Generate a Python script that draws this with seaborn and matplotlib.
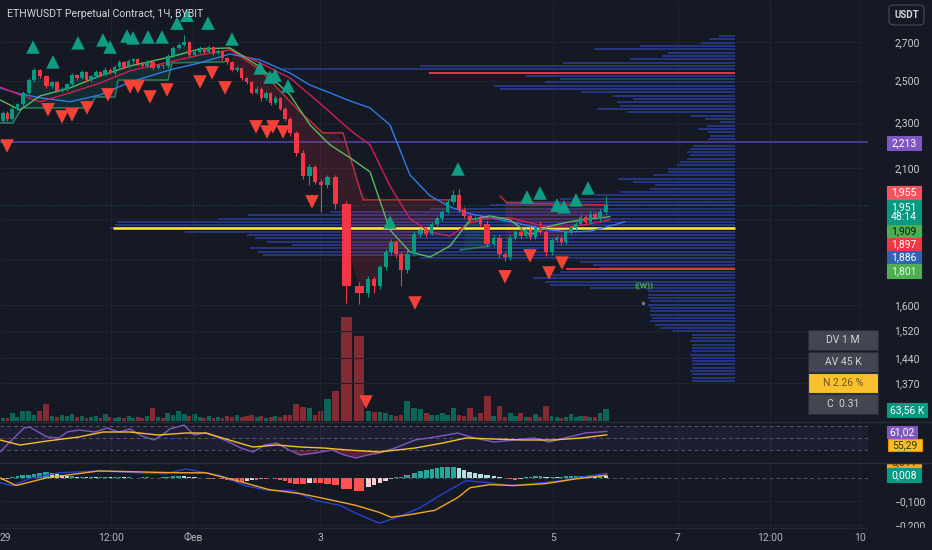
import numpy as np
import pandas as pd
import matplotlib
matplotlib.use("Agg")
import matplotlib.pyplot as plt
import seaborn as sns
from matplotlib.patches import Rectangle, FancyBboxPatch
from matplotlib.lines import Line2D
from matplotlib.ticker import FixedLocator, FixedFormatter, NullLocator, NullFormatter

# ------------------------------------------------------------------
# DATA
# ------------------------------------------------------------------
first_open = 2308
closes = [
    # Jan 29 - Feb 2 (uptrend / top)
    2346, 2317, 2365, 2384, 2441, 2501, 2552, 2521, 2471, 2491,
    2451, 2461, 2481, 2526, 2511, 2542, 2501, 2521, 2542, 2526,
    2555, 2540, 2570, 2594, 2568, 2599, 2609, 2583, 2573, 2594,
    2562, 2578, 2573, 2625, 2668, 2684, 2700, 2631, 2647, 2668,
    2647, 2673, 2641, 2652, 2615, 2594, 2552, 2562, 2511, 2491,
    2441, 2461, 2413, 2441, 2393, 2413, 2365, 2317,
    # sell-off
    2253, 2164, 2066, 2104, 2045, 2033, 2062, 1957,
    # crash
    1663, 1639,
    # rebound
    1686, 1663, 1724, 1777, 1813, 1770, 1714, 1770, 1843, 1857,
    1843, 1880, 1902, 1926, 1965, 1993, 1934,
    # range
    1910, 1895, 1902, 1880, 1806, 1828, 1770, 1759, 1828, 1850,
    1835, 1857, 1832, 1865, 1850, 1777, 1820, 1828, 1813, 1850,
    1865, 1880, 1906, 1887, 1918, 1902, 1926, 1951,
]
wick_up = [
    6, 8, 10, 5, 8, 12, 10, 6, 8, 5, 7, 6, 9, 12, 6, 10, 5, 8, 10, 6,
    12, 7, 9, 10, 6, 12, 8, 6, 7, 9, 6, 8, 7, 10, 8, 9, 38, 6, 10, 8,
    7, 12, 6, 9, 5, 6, 8, 10, 6, 5, 8, 10, 6, 9, 5, 10, 6, 5,
    10, 8, 12, 15, 8, 10, 10, 8,
    10, 12,
    8, 10, 8, 12, 10, 8, 6, 15, 10, 8, 10, 6, 8, 6, 10, 20, 22,
    10, 8, 6, 8, 15, 10, 12, 6, 10, 8, 20, 8, 10, 12, 25, 10, 8, 6, 8, 10,
    8, 10, 12, 8, 15, 8, 12, 38,
]
wick_dn = [
    8, 10, 6, 9, 12, 8, 6, 10, 7, 9, 6, 8, 10, 6, 9, 5, 8, 7, 6, 9,
    5, 8, 10, 6, 7, 5, 9, 8, 6, 10, 7, 6, 8, 9, 6, 7, 8, 10, 6, 8,
    9, 7, 10, 6, 8, 12, 6, 9, 10, 8, 6, 9, 12, 7, 10, 8, 9, 12,
    15, 12, 10, 33, 10, 110, 15, 20,
    56, 35,
    15, 25, 10, 8, 10, 12, 51, 10, 8, 10, 12, 6, 8, 10, 6, 8, 10,
    8, 10, 6, 12, 10, 8, 15, 12, 8, 6, 10, 8, 12, 6, 8, 15, 10, 8, 10, 6,
    8, 10, 6, 12, 6, 8, 10, 8,
]
volume_k = [
    16, 16, 42, 21, 53, 53, 32, 53, 90, 27, 21, 32, 27, 37, 21, 27, 16, 21, 27, 16,
    37, 21, 16, 21, 16, 27, 16, 21, 16, 27, 69, 21, 16, 42, 32, 53, 37, 27, 37, 21,
    16, 27, 16, 21, 16, 27, 21, 32, 21, 27, 32, 21, 27, 16, 21, 27, 21, 32,
    32, 90, 74, 69, 32, 53, 117, 159,
    551, 450,
    53, 48, 48, 42, 32, 27, 32, 106, 69, 64, 42, 32, 32, 42, 32, 69, 32,
    27, 69, 21, 42, 133, 27, 80, 21, 42, 27, 42, 21, 21, 37, 21, 80, 27, 21, 16, 21,
    37, 21, 27, 27, 21, 21, 42, 63.56,
]
macd_hist = [
    -0.008, -0.004, 0.004, 0.008, 0.0125, 0.0125, 0.017, 0.021, 0.025, 0.021,
    0.017, 0.0125, 0.008, 0.008, 0.004, 0.004, 0.002, 0.004, 0.002, 0.002,
    0.004, 0.002, 0.004, 0.004, 0.002, 0.002, -0.002, -0.002, 0.002, 0.002,
    -0.002, -0.002, 0.002, 0.004, 0.006, 0.008, 0.006, 0.004, 0.002, -0.002,
    -0.002, -0.004, -0.004, -0.002, -0.004, -0.008, -0.0125, -0.017, -0.017, -0.0125,
    -0.008, -0.008, -0.004, -0.004, -0.002, -0.004, -0.008, -0.0125,
    -0.021, -0.025, -0.025, -0.021, -0.021, -0.021, -0.025, -0.029,
    -0.046, -0.054,
    -0.0375, -0.029, -0.021, -0.0125, -0.004, 0.002, 0.004, 0.0125, 0.021, 0.029,
    0.033, 0.0375, 0.042, 0.046, 0.046, 0.046, 0.042,
    0.033, 0.025, 0.021, 0.017, 0.0125, 0.006, 0.002, -0.002, -0.006, -0.008,
    -0.004, 0.002, 0.004, 0.006, 0.006, 0.004, 0.004, 0.002, 0.004, 0.006,
    0.006, 0.008, 0.008, 0.008, 0.010, 0.008, 0.010, 0.008,
]

# Williams Alligator (displaced forward), chart-time positions
alli_x = [0, 20, 40, 70, 100, 130, 170, 200, 230, 260, 290, 310, 330, 350, 370,
          390, 410, 430, 450, 470, 490, 510, 530, 550, 570, 590, 610, 625]
jaw = [2464, 2435, 2416, 2397, 2430, 2493, 2554, 2590, 2636, 2605, 2538, 2478, 2440, 2401,
       2368, 2289, 2072, 1988, 1945, 1918, 1903, 1888, 1872, 1857, 1850, 1853, 1872, 1888]
teeth = [2469, 2430, 2397, 2440, 2488, 2549, 2595, 2631, 2657, 2590, 2513, 2430, 2348, 2266,
         2200, 2027, 1899, 1850, 1835, 1884, 1903, 1903, 1884, 1868, 1868, 1880, 1895, np.nan]
lips = [2406, 2358, 2425, 2464, 2524, 2574, 2620, 2663, 2668, 2569, 2430, 2289, 2200, 2144,
        2085, 1857, 1778, 1760, 1799, 1895, 1910, 1895, 1839, 1872, 1888, 1899, 1907, np.nan]

# Supertrend segments
st_up1_x = [0, 13, 22, 90, 95, 115, 118, 168, 172, 225]
st_up1 = [2298, 2298, 2368, 2368, 2420, 2420, 2503, 2503, 2590, 2595]
st_dn1_x = [228, 260, 300, 323, 343, 363, 453]
st_dn1 = [2668, 2554, 2349, 2253, 2253, 1972, 1972]
st_up2_x = [460, 490]
st_up2 = [1785, 1799]
st_dn2_x = [500, 507, 607]
st_dn2 = [1987, 1960, 1952]

# Williams fractals
frac_up_x = [33, 53, 78, 103, 110, 127, 133, 148, 162, 177, 187, 208, 232, 260, 270,
             275, 288, 390, 458, 527, 540, 557, 564, 576, 588]
frac_up = [2673, 2595, 2695, 2711, 2673, 2732, 2722, 2727, 2727, 2803, 2847, 2803, 2716,
           2564, 2518, 2528, 2474, 1887, 2097, 1983, 1999, 1952, 1945, 1972, 2019]
frac_dn_x = [7, 48, 62, 72, 87, 108, 130, 138, 150, 167, 200, 212, 225, 256, 267, 273,
             283, 312, 366, 415, 505, 530, 549, 562]
frac_dn = [2195, 2359, 2326, 2335, 2368, 2430, 2469, 2469, 2420, 2454, 2493, 2539, 2464,
           2280, 2257, 2280, 2257, 1964, 1319, 1606, 1692, 1764, 1705, 1739]

# Volume profile (rows from 2,732 down to 1,375)
vp_top, vp_bottom = 2732, 1375
vp_volume = [
    16, 26, 34, 95, 141, 67, 73, 105, 172, 315,
    452, 306, 209, 175, 190, 241, 235, 154, 122, 102,
    118, 115, 138, 108, 45, 30, 15, 28, 37, 27,
    25, 27, 35, 42, 45, 48, 45, 48, 55, 58,
    67, 67, 82, 117, 102, 80, 85, 115, 140, 175,
    230, 245, 305, 405, 487, 517, 618, 620, 625, 550,
    488, 480, 468, 443, 485, 477, 472, 315, 155, 142,
    135, 175, 185, 202, 190, 185, 145, 87, 87, 87,
    85, 87, 85, 85, 85, 83, 85, 80, 75, 62,
    43, 43, 45, 43, 43, 43, 45, 43, 43, 43, 43, 45, 43, 43, 43,
]
vah_price, val_price = 2539, 1718
level_price = 2213
last_price = 1951

# RSI
rsi_x = [0, 12, 24, 30, 40, 47, 59, 67, 79, 95, 107, 119, 130, 142, 154, 162, 170, 184,
         194, 206, 217, 229, 241, 253, 265, 277, 289, 300, 316, 332, 344, 356, 368, 379,
         395, 415, 435, 458, 474, 494, 514, 534, 549, 569, 585, 607]
rsi = [26.7, 46.7, 66.7, 68.3, 58.3, 51.7, 50, 60, 63.3, 60, 66.7, 60, 65, 53.3, 46.7,
       55, 65, 71.7, 55, 58.3, 51.7, 43.3, 33.3, 26.7, 38.3, 41.7, 30, 21.7, 25, 30,
       21.7, 16.7, 21.7, 25, 33.3, 46.7, 51.7, 58.3, 50, 43.3, 46.7, 50, 43.3, 51.7,
       58.3, 61.02]
rsi_ma_x = [0, 20, 47, 79, 103, 130, 158, 186, 206, 229, 253, 277, 300, 324, 348, 379,
            415, 443, 466, 494, 522, 553, 581, 607]
rsi_ma = [46.7, 38.3, 45, 51.7, 60, 60, 55, 58.3, 58.3, 46.7, 35, 38.3, 35, 33.3, 30,
          26.7, 33.3, 41.7, 50, 48.3, 46.7, 46.7, 50, 55.29]

# MACD
macd_x = [0, 12, 32, 59, 99, 138, 166, 186, 206, 221, 245, 269, 292, 316, 340, 356, 379,
          395, 419, 443, 466, 490, 510, 534, 561, 589, 607]
macd = [-0.021, -0.033, 0, 0.021, 0.029, 0.021, 0.017, 0.0375, 0.021, 0.008, -0.033,
        -0.054, -0.054, -0.096, -0.117, -0.15, -0.192, -0.171, -0.129, -0.067, -0.0125,
        -0.021, -0.033, -0.025, -0.0125, 0.008, 0.019]
signal_x = [0, 16, 47, 99, 138, 178, 206, 237, 269, 300, 324, 356, 379, 391, 407, 435,
            458, 470, 490, 514, 545, 577, 607]
signal = [0, -0.033, 0, 0.029, 0.025, 0.021, 0.021, -0.0125, -0.05, -0.067, -0.0875,
          -0.117, -0.146, -0.167, -0.158, -0.1375, -0.083, -0.042, -0.029, -0.033,
          -0.025, -0.004, 0.011]

# axis labels
price_ticks = [2700, 2500, 2300, 2100, 1600, 1520, 1440, 1370]
grid_prices = [2700, 2500, 2300, 2100, 1900, 1750, 1600, 1520, 1440, 1370]
time_labels = ["29", "12:00", "Фев", "3", "5", "7", "12:00", "10"]
time_pos = [5, 111, 193, 320, 553, 678, 770, 860]

# ------------------------------------------------------------------
# STYLE
# ------------------------------------------------------------------
BG = "#151924"
GRID = "#1f2330"
TXT = "#b2b5be"
UP = "#089981"
DN = "#f23645"

sns.set_theme(style="dark", rc={"axes.facecolor": BG, "figure.facecolor": BG})
plt.rcParams["font.family"] = ["Roboto", "DejaVu Sans"]
plt.rcParams["axes.unicode_minus"] = True

W, H = 932, 550
PW = 868  # plot width in px
fig = plt.figure(figsize=(W / 100, H / 100), dpi=100, facecolor=BG)


def rect(top, bottom):
    return [0, 1 - bottom / H, PW / W, (bottom - top) / H]


ax_vol = fig.add_axes(rect(300, 421), zorder=0)
ax = fig.add_axes(rect(0, 421), zorder=1)
ax_rsi = fig.add_axes(rect(423, 461), zorder=1)
ax_macd = fig.add_axes(rect(463, 527), zorder=1)

for a in (ax_vol, ax, ax_rsi, ax_macd):
    a.set_facecolor("none")
    for s in a.spines.values():
        s.set_visible(False)
    a.set_xlim(0, PW)
    a.set_xticks([])
    a.grid(False)
    a.tick_params(colors=TXT, length=0, labelsize=7.5)

# ------------------------------------------------------------------
# candle geometry (volume-weighted widths)
# ------------------------------------------------------------------
c = np.array(closes, dtype=float)
o = np.concatenate([[first_open], c[:-1]])
hi = np.maximum(o, c) + np.array(wick_up)
lo = np.minimum(o, c) - np.array(wick_dn)
vol = np.array(volume_k, dtype=float)
spacing = 2.5 + 0.456 * np.sqrt(vol)
edges = np.concatenate([[0], np.cumsum(spacing)])
raw = (edges[:-1] + edges[1:]) / 2
scale = (606 - 3) / (raw[-1] - raw[0])
xc = 3 + (raw - raw[0]) * scale
wd = spacing * scale
up = c >= o
col = np.where(up, UP, DN)

# ------------------------------------------------------------------
# main price pane
# ------------------------------------------------------------------
ax.set_yscale("log")
ax.set_ylim(1270, 2935)
ax.yaxis.tick_right()
ax.yaxis.set_major_locator(FixedLocator(price_ticks))
ax.yaxis.set_major_formatter(FixedFormatter([f"{p:,}" for p in price_ticks]))
ax.yaxis.set_minor_locator(NullLocator())
ax.yaxis.set_minor_formatter(NullFormatter())
ax.tick_params(axis="y", pad=19, labelsize=7.5, colors="#c8cad1")

for p in grid_prices:
    ax.axhline(p, color=GRID, lw=0.8, zorder=0)
for a in (ax, ax_rsi, ax_macd):
    for x in time_pos[1:]:
        a.axvline(x, color=GRID, lw=0.8, zorder=0)

# volume profile
vp_prices = np.geomspace(vp_top, vp_bottom, len(vp_volume))
vp_len = np.array(vp_volume)
ax.hlines(vp_prices, 735 - vp_len, 735, color="#2a3d94", lw=1.25, alpha=0.9, zorder=1)
poc = vp_prices[np.argmax(vp_len)]
ax.hlines(poc, 113, 735, color="#ffeb3b", lw=1.8, zorder=2.2)
ax.hlines(vah_price, 429, 735, color="#f23645", lw=1.3, zorder=2.2)
ax.hlines(val_price, 566, 735, color="#f23645", lw=1.3, zorder=2.2)
ax.axhline(level_price, color="#4b3a8c", lw=1.4, zorder=1.2)
ax.axhline(last_price, color=UP, lw=0.7, ls=(0, (1, 2)), alpha=0.6, zorder=1.2)


def st_fill(xs, ps, color):
    m = (xc >= xs[0]) & (xc <= xs[-1])
    cx = xc[m]
    stv = np.exp(np.interp(cx, xs, np.log(ps)))
    mid = (o[m] + c[m]) / 2
    ax.fill_between(cx, stv, mid, color=color, alpha=0.14, lw=0, zorder=1.5)


st_fill(st_up1_x, st_up1, UP)
st_fill(st_dn1_x, st_dn1, DN)
st_fill(st_up2_x, st_up2, UP)
st_fill(st_dn2_x, st_dn2, DN)
for xs, ps, cc in ((st_up1_x, st_up1, "#2e7d5a"), (st_dn1_x, st_dn1, "#b8303c"),
                   (st_up2_x, st_up2, "#2e7d5a"), (st_dn2_x, st_dn2, "#b8303c")):
    sns.lineplot(x=xs, y=ps, ax=ax, color=cc, lw=1.1, sort=False, estimator=None, zorder=2.4)

# alligator
sns.lineplot(x=alli_x, y=jaw, ax=ax, color="#2f7bea", lw=1.0, sort=False, estimator=None, zorder=2.5)
sns.lineplot(x=alli_x, y=teeth, ax=ax, color="#d81b50", lw=1.0, sort=False, estimator=None, zorder=2.5)
sns.lineplot(x=alli_x, y=lips, ax=ax, color="#5cb860", lw=1.0, sort=False, estimator=None, zorder=2.5)

# candles
ax.vlines(xc, lo, hi, colors=col, lw=0.8, zorder=3)
body_lo = np.minimum(o, c)
body_h = np.maximum(np.abs(c - o), 2.0)
ax.bar(xc, body_h, bottom=body_lo, width=wd * 0.7, color=col, lw=0, zorder=3.1)

# fractals
sns.scatterplot(x=frac_up_x, y=frac_up, ax=ax, marker="^", s=95, color="#0e9e86",
                edgecolor="none", linewidth=0, zorder=4)
sns.scatterplot(x=frac_dn_x, y=frac_dn, ax=ax, marker="v", s=95, color="#f44336",
                edgecolor="none", linewidth=0, zorder=4)

ax.text(644, 1660, "((W))", color="#4caf50", fontsize=6, ha="center", va="center",
        fontweight="bold", zorder=4)
ax.plot([643], [1607], marker="o", ms=1.5, color="#787b86", zorder=4)
ax.set_xlim(0, PW)
ax.set_xlabel("")
ax.set_ylabel("")

# ------------------------------------------------------------------
# volume (overlay at bottom of main pane)
# ------------------------------------------------------------------
ax_vol.bar(xc, vol, width=wd * 0.85, color=np.where(up, "#0b6b5c", "#8a2b33"),
           lw=0, alpha=0.95)
ax_vol.set_ylim(0, 641)
ax_vol.set_yticks([])

# ------------------------------------------------------------------
# RSI pane
# ------------------------------------------------------------------
ax_rsi.set_ylim(11.67, 75)
ax_rsi.set_yticks([])
ax_rsi.axhspan(30, 70, color="#7e57c2", alpha=0.09, lw=0)
for lvl in (70, 50, 30):
    ax_rsi.axhline(lvl, color="#787b86", lw=0.7, ls=(0, (4, 3)), alpha=0.6)
rx = np.array(rsi_x, float)
rv = np.array(rsi, float)
ax_rsi.fill_between(rx, rv, 30, where=rv < 30, interpolate=True, color="#f23645", alpha=0.3, lw=0)
ax_rsi.fill_between(rx, rv, 70, where=rv > 70, interpolate=True, color="#089981", alpha=0.3, lw=0)
sns.lineplot(x=rsi_x, y=rsi, ax=ax_rsi, color="#7e57c2", lw=1.0, sort=False, estimator=None)
sns.lineplot(x=rsi_ma_x, y=rsi_ma, ax=ax_rsi, color="#f5c125", lw=1.0, sort=False, estimator=None)
ax_rsi.set_xlim(0, PW)
ax_rsi.set_xlabel("")
ax_rsi.set_ylabel("")

# ------------------------------------------------------------------
# MACD pane
# ------------------------------------------------------------------
ax_macd.set_ylim(-0.2083, 0.0625)
ax_macd.yaxis.tick_right()
ax_macd.yaxis.set_major_locator(FixedLocator([-0.1, -0.2]))
ax_macd.yaxis.set_major_formatter(FixedFormatter(["\u22120,100", "\u22120,200"]))
ax_macd.tick_params(axis="y", pad=19, labelsize=7.5, colors="#c8cad1")
for lvl in (-0.1, -0.2):
    ax_macd.axhline(lvl, color=GRID, lw=0.8, zorder=0)
ax_macd.axhline(0, color="#787b86", lw=0.7, ls=(0, (4, 3)), alpha=0.6)
hist = np.array(macd_hist)
prev = np.concatenate([[hist[0]], hist[:-1]])
hcol = np.where(hist >= 0, np.where(hist >= prev, "#26a69a", "#b2dfdb"),
                np.where(hist <= prev, "#ff5252", "#ffcdd2"))
ax_macd.bar(xc, hist, width=wd * 0.8, color=hcol, lw=0, zorder=1)
sns.lineplot(x=macd_x, y=macd, ax=ax_macd, color="#2b3fd6", lw=1.0, sort=False, estimator=None, zorder=2)
sns.lineplot(x=signal_x, y=signal, ax=ax_macd, color="#f5a623", lw=1.0, sort=False, estimator=None, zorder=2)
ax_macd.set_xlim(0, PW)
ax_macd.set_xlabel("")
ax_macd.set_ylabel("")

# ------------------------------------------------------------------
# figure-level decorations (pane separators, labels, boxes)
# ------------------------------------------------------------------
def hline_fig(y, color="#2a2e39", lw=1.0, z=5):
    fig.add_artist(Line2D([0, 1], [1 - y / H, 1 - y / H], color=color, lw=lw,
                          transform=fig.transFigure, zorder=z))


def box(x0, y0, x1, y1, fc, text="", tc="white", fs=7.5, ec=None, z=10):
    fig.add_artist(Rectangle((x0 / W, 1 - y1 / H), (x1 - x0) / W, (y1 - y0) / H,
                             transform=fig.transFigure, fc=fc, ec=ec or fc, lw=0.8, zorder=z))
    if text:
        fig.text((x0 + x1) / 2 / W, 1 - (y0 + y1) / 2 / H, text, color=tc, fontsize=fs,
                 ha="center", va="center", zorder=z + 0.5, linespacing=1.05)


hline_fig(422)
hline_fig(527.5, color="#232734")

# title
fig.text(7 / W, 1 - 14 / H, "ETHWUSDT Perpetual Contract, 1Ч, BYBIT", color="#d1d4dc",
         fontsize=7.6, ha="left", va="center", zorder=12)

# USDT badge
fig.add_artist(FancyBboxPatch((889 / W, 1 - 25 / H), 35 / W, 20 / H,
                              boxstyle="round,pad=0,rounding_size=0.006",
                              transform=fig.transFigure, fc=BG, ec="#434651", lw=0.9, zorder=10))
fig.text(906.5 / W, 1 - 15 / H, "USDT", color="#d1d4dc", fontsize=7, ha="center",
         va="center", zorder=11, fontweight="bold")

# price-scale labels
box(887, 136, 921, 150, "#7e57c2", "2,213")
box(887, 186, 921, 199, "#f7525f", "1,955")
box(887, 200, 921, 224, UP, "1,951\n48:14")
box(887, 225, 921, 237, "#4caf50", "1,909", tc="#10161a")
box(887, 238, 921, 250, DN, "1,897")
box(887, 251, 921, 263, "#2f63b5", "1,886")
box(887, 264, 921, 278, "#4caf50", "1,801", tc="#e8f5e9")
box(887, 403, 927, 417, UP, "63,56 K")
box(887, 426, 917, 438, "#7e57c2", "61,02")
box(888, 439, 922, 451, "#f5c125", "55,29", tc="#3a3000", ec="#f08c00")
box(887, 455, 921, 469, "#f5a623", "0,011", tc="#3a2a00", z=9)
box(868, 452, 932, 462.5, BG, z=9.8)
hline_fig(462.5, z=9.9)
box(887, 468, 921, 482, UP, "0,008")
box(868, 528, 932, 550, BG, z=9.8)

# info boxes
box(808, 330, 878, 350, "#434651", "DV 1 M", tc="#d1d4dc", fs=7.5, ec="#2a2e39")
box(808, 352, 878, 372, "#434651", "AV 45 K", tc="#d1d4dc", fs=7.5, ec="#2a2e39")
box(808, 373, 878, 393, "#fbc02d", "N 2.26 %", tc="#6b5518", fs=7.5, ec="#2a2e39")
box(808, 394, 878, 414, "#434651", "C  0.31", tc="#d1d4dc", fs=7.5, ec="#2a2e39")

# time axis labels
for lab, xp in zip(time_labels, time_pos):
    fig.text(xp / W, 1 - 538 / H, lab, color=TXT, fontsize=7.5, ha="center",
             va="center", zorder=12)

fig.savefig("out.png", dpi=100, facecolor=BG)
